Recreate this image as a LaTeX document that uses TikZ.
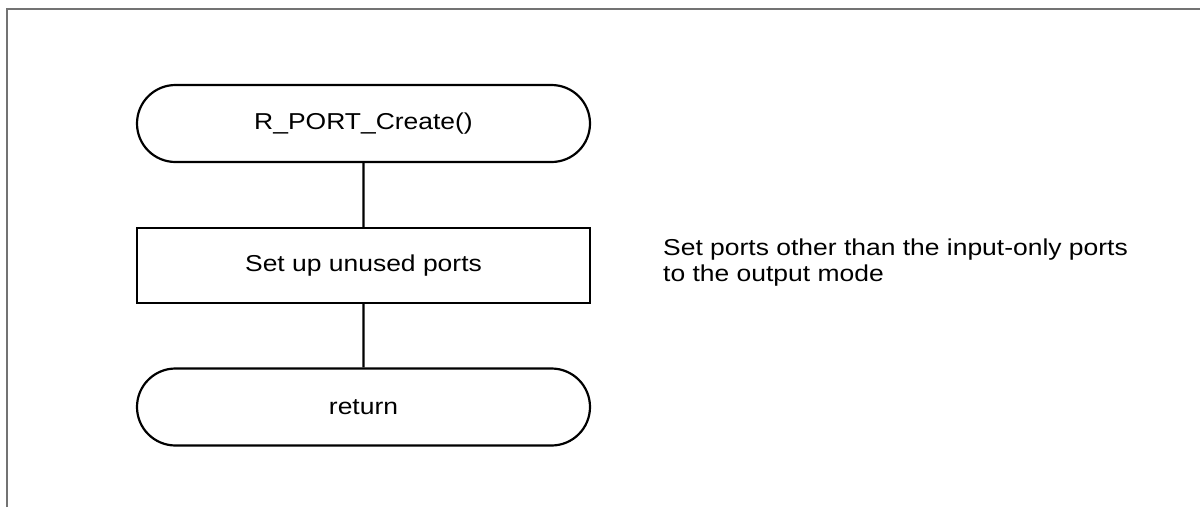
\documentclass[tikz,border=0pt]{standalone}
\usepackage{fontspec}
\setmainfont{Liberation Sans}[FakeStretch=1.15]
\usetikzlibrary{shapes.misc}
\begin{document}
\begin{tikzpicture}[x=1pt,y=-1pt,
  lbl/.style={font=\fontsize{23}{26}\selectfont, text=black},
  term/.style={rounded rectangle, draw=black, line width=2.2pt, minimum width=453pt, minimum height=77pt, inner sep=0pt, lbl},
  proc/.style={rectangle, draw=black, line width=2.2pt, minimum width=453pt, minimum height=75pt, inner sep=0pt, lbl},
  conn/.style={draw=black, line width=2.2pt},
  frame/.style={draw=black!55, line width=2.2pt}]
\useasboundingbox (0,0) rectangle (1200,507);
\draw[frame] (7,507) -- (7,9) -- (1200,9);
\node[term] (start) at (363.5,123.5) {R\_PORT\_Create()};
\node[proc] (setup) at (363.5,265.5) {Set up unused ports};
\node[term] (ret) at (363.5,407) {return};
\node[lbl, anchor=west, align=left, inner sep=0pt] (note) at (663,263) {Set ports other than the input-only ports\\to the output mode};
\draw[conn] (start) -- (setup);
\draw[conn] (setup) -- (ret);
\end{tikzpicture}
\end{document}
